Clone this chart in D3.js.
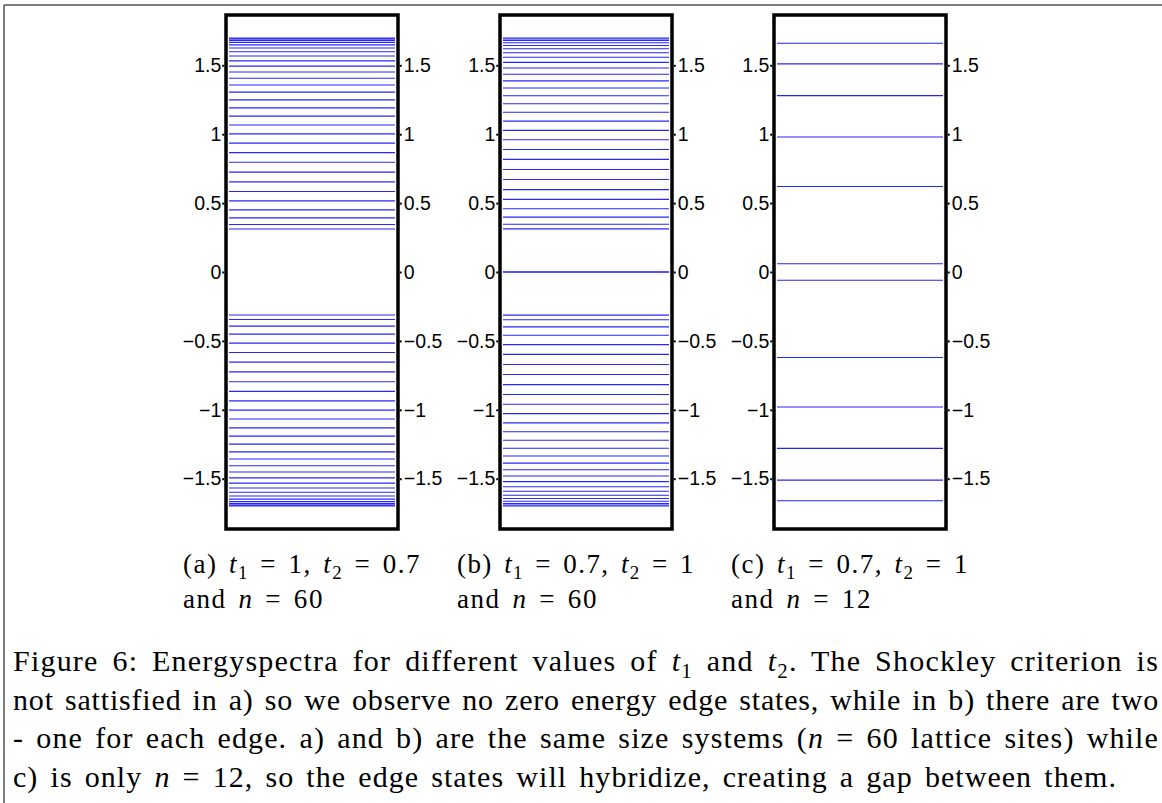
<!DOCTYPE html>
<html>
<head>
<meta charset="utf-8">
<script src="https://cdn.jsdelivr.net/npm/d3@7"></script>
<style>
  body { margin: 0; background: #fff; }
  svg { display: block; }
</style>
</head>
<body>
<div id="chart"></div>
<script>
// energy levels
const energiesA = [
  1.698, 1.692, 1.681, 1.666, 1.648, 1.625, 1.598, 1.567, 1.532, 1.494,
  1.451, 1.406, 1.357, 1.305, 1.249, 1.191, 1.131, 1.067, 1.002, 0.935,
  0.866, 0.796, 0.725, 0.654, 0.584, 0.516, 0.451, 0.393, 0.345, 0.312,
  -0.312, -0.345, -0.393, -0.451, -0.516, -0.584, -0.654, -0.725, -0.796, -0.866,
  -0.935, -1.002, -1.067, -1.131, -1.191, -1.249, -1.305, -1.357, -1.406, -1.451,
  -1.494, -1.532, -1.567, -1.598, -1.625, -1.648, -1.666, -1.681, -1.692, -1.698
];
const energiesB = [
  1.698, 1.691, 1.680, 1.664, 1.644, 1.620, 1.591, 1.558, 1.521, 1.480,
  1.435, 1.387, 1.335, 1.279, 1.221, 1.159, 1.095, 1.028, 0.960, 0.889,
  0.817, 0.744, 0.671, 0.598, 0.527, 0.459, 0.398, 0.347, 0.313, 0.000,
  0.000, -0.313, -0.347, -0.398, -0.459, -0.527, -0.598, -0.671, -0.744, -0.817,
  -0.889, -0.960, -1.028, -1.095, -1.159, -1.221, -1.279, -1.335, -1.387, -1.435,
  -1.480, -1.521, -1.558, -1.591, -1.620, -1.644, -1.664, -1.680, -1.691, -1.698
];
const energiesC = [
  1.66, 1.51, 1.28, 0.98, 0.62, 0.06,
  -0.06, -0.62, -0.98, -1.28, -1.51, -1.66
];
const yTicks = [-1.5, -1, -0.5, 0, 0.5, 1, 1.5];

// text pieces: [text, kind]  kind: "i" italic, "s" subscript
const subCaptions = [
  [[["(a) "], ["t", "i"], ["1", "s"], [" = 1, "], ["t", "i"], ["2", "s"], [" = 0.7"]],
   [["and "], ["n", "i"], [" = 60"]]],
  [[["(b) "], ["t", "i"], ["1", "s"], [" = 0.7, "], ["t", "i"], ["2", "s"], [" = 1"]],
   [["and "], ["n", "i"], [" = 60"]]],
  [[["(c) "], ["t", "i"], ["1", "s"], [" = 0.7, "], ["t", "i"], ["2", "s"], [" = 1"]],
   [["and "], ["n", "i"], [" = 12"]]]
];
const captionLines = [
  [["Figure 6: Energyspectra for different values of "], ["t", "i"], ["1", "s"], [" and "],
   ["t", "i"], ["2", "s"], [". The Shockley criterion is"]],
  [["not sattisfied in a) so we observe no zero energy edge states, while in b) there are two"]],
  [["- one for each edge. a) and b) are the same size systems ("], ["n", "i"],
   [" = 60 lattice sites) while"]],
  [["c) is only "], ["n", "i"], [" = 12, so the edge states will hybridize, creating a gap between them."]]
];

const width = 1162, height = 803;
const frame = { top: 15, bottom: 529, width: 172, left: 226, step: 274 };

const svg = d3.select("#chart")
  .append("svg")
  .attr("width", width)
  .attr("height", height);

// figure box (top and left edges only are visible)
svg.append("line")
  .attr("x1", 4).attr("x2", width).attr("y1", 5).attr("y2", 5)
  .attr("stroke", "#555").attr("stroke-width", 1.5);
svg.append("line")
  .attr("x1", 4).attr("x2", 4).attr("y1", 5).attr("y2", height)
  .attr("stroke", "#555").attr("stroke-width", 1.5);

const y = d3.scaleLinear().domain([-1.865, 1.865]).range([frame.bottom, frame.top]);
const x = d3.scaleLinear().domain([0, 1]);
const fmt = d3.format("~g");

// stretch a line to the target width, part in letters, part in spaces
function richText(parent, segs, xPos, yPos, size, target, letterShare) {
  const t = parent.append("text")
    .attr("x", xPos)
    .attr("y", yPos)
    .attr("font-family", "'Liberation Serif', 'Times New Roman', serif")
    .attr("font-size", size)
    .attr("fill", "#000")
    .style("white-space", "pre");
  let shifted = false;
  segs.forEach(([s, kind]) => {
    const ts = t.append("tspan").text(s);
    if (kind === "i") ts.attr("font-style", "italic");
    if (kind === "s") {
      ts.attr("font-size", size * 0.7).attr("dy", size * 0.22);
      shifted = true;
    } else if (shifted) {
      ts.attr("dy", -size * 0.22);
      shifted = false;
    }
  });
  if (target) {
    const str = segs.map((s) => s[0]).join("");
    const extra = target - t.node().getComputedTextLength();
    const spaces = str.split(" ").length - 1;
    const ls = (extra * letterShare) / str.length;
    t.attr("letter-spacing", ls);
    if (spaces > 0) t.attr("word-spacing", (extra * (1 - letterShare)) / spaces);
  }
  return t;
}

[energiesA, energiesB, energiesC].forEach((energies, i) => {
  const left = frame.left + i * frame.step;
  const right = left + frame.width;
  x.range([left + 3, right - 3]);

  const g = svg.append("g").attr("class", "panel");

  g.selectAll(".level")
    .data(energies)
    .join("line")
    .attr("class", "level")
    .attr("x1", x(0))
    .attr("x2", x(1))
    .attr("y1", (d) => y(d))
    .attr("y2", (d) => y(d))
    .attr("stroke", "#0000ff")
    .attr("stroke-opacity", 0.85)
    .attr("stroke-width", 1.1);

  g.append("rect")
    .attr("x", left)
    .attr("y", frame.top)
    .attr("width", frame.width)
    .attr("height", frame.bottom - frame.top)
    .attr("fill", "none")
    .attr("stroke", "#000")
    .attr("stroke-width", 3.5);

  const leftAxis = g.append("g")
    .attr("transform", `translate(${left - 1.75},0)`)
    .call(d3.axisLeft(y).tickValues(yTicks).tickSize(2).tickPadding(1).tickFormat(fmt));
  const rightAxis = g.append("g")
    .attr("transform", `translate(${right + 1.75},0)`)
    .call(d3.axisRight(y).tickValues(yTicks).tickSize(2).tickPadding(2).tickFormat(fmt));

  [leftAxis, rightAxis].forEach((ax) => {
    ax.select(".domain").remove();
    ax.attr("font-family", "'Liberation Sans', Arial, sans-serif").attr("font-size", 19.5);
    ax.selectAll("text").attr("fill", "#000");
    ax.selectAll("line").attr("stroke", "#000").attr("stroke-width", 2);
  });

  const lines = subCaptions[i];
  richText(svg, lines[0], left - 43, 573, 27, 238, 0.6);
  richText(svg, lines[1], left - 43, 608, 27, 141, 0.6);
});

const captionBase = [671, 709.5, 748, 786.5];
captionLines.forEach((segs, i) => {
  richText(svg, segs, 13, captionBase[i], 30, i === 3 ? 1104 : 1146, 0.6);
});
</script>
</body>
</html>
